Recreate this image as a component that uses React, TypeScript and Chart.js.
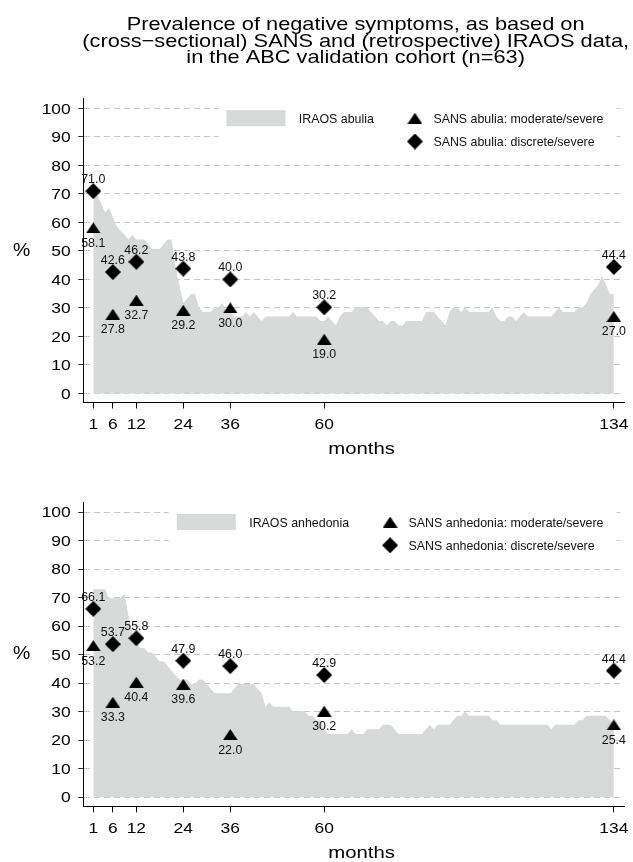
import React, { useEffect, useRef } from 'react';
import { Chart, registerables } from 'chart.js';

Chart.register(...registerables);

// ---------- data ----------
const titleLines = [
  'Prevalence of negative symptoms, as based on',
  '(cross\u2212sectional) SANS and (retrospective) IRAOS data,',
  'in the ABC validation cohort (n=63)',
];

const sansMonths = [1, 6, 12, 24, 36, 60, 134];
const xTicks = [1, 6, 12, 24, 36, 60, 134];
const yTicks = [0, 10, 20, 30, 40, 50, 60, 70, 80, 90, 100];

// IRAOS monthly prevalence (%), months 1..134
const abuliaIraos = [
  71.4, 69.8, 66.7, 63.5, 65.1, 61.9, 58.7, 57.1, 55.6, 54.0,
  55.6, 54.0, 54.0, 54.0, 52.4, 50.8, 50.8, 50.8, 52.4, 54.0,
  54.0, 44.4, 38.1, 31.7, 33.3, 34.9, 34.9, 30.2, 28.6, 28.6,
  28.6, 30.2, 30.2, 31.7, 28.6, 28.6, 27.0, 27.0, 27.0, 28.6,
  27.0, 28.6, 27.0, 25.4, 27.0, 27.0, 27.0, 27.0, 27.0, 27.0,
  27.0, 28.6, 27.0, 27.0, 27.0, 27.0, 27.0, 27.0, 25.4, 25.4,
  27.0, 25.4, 23.8, 27.0, 28.6, 28.6, 28.6, 30.2, 30.2, 30.2,
  30.2, 28.6, 27.0, 25.4, 25.4, 23.8, 25.4, 25.4, 23.8, 23.8,
  25.4, 25.4, 25.4, 25.4, 25.4, 28.6, 28.6, 28.6, 27.0, 25.4,
  23.8, 28.6, 30.2, 30.2, 28.6, 30.2, 28.6, 28.6, 28.6, 28.6,
  28.6, 28.6, 30.2, 27.0, 25.4, 25.4, 27.0, 27.0, 25.4, 27.0,
  28.6, 27.0, 27.0, 27.0, 27.0, 27.0, 27.0, 27.0, 28.6, 30.2,
  28.6, 28.6, 28.6, 28.6, 30.2, 30.2, 31.7, 34.9, 36.5, 38.1,
  41.3, 38.1, 34.9, 34.9,
];
const abuliaModerate = [58.1, 27.8, 32.7, 29.2, 30.0, 19.0, 27.0];
const abuliaDiscrete = [71.0, 42.6, 46.2, 43.8, 40.0, 30.2, 44.4];

const anhedoniaIraos = [
  73.0, 73.0, 73.0, 73.0, 69.8, 69.8, 69.8, 69.8, 71.4, 63.5,
  57.1, 54.0, 52.4, 52.4, 50.8, 50.8, 49.2, 47.6, 47.6, 46.0,
  44.4, 42.9, 41.3, 41.3, 41.3, 39.7, 39.7, 41.3, 41.3, 39.7,
  38.1, 36.5, 36.5, 36.5, 36.5, 36.5, 38.1, 39.7, 39.7, 39.7,
  39.7, 39.7, 38.1, 36.5, 31.7, 33.3, 31.7, 31.7, 31.7, 31.7,
  31.7, 30.2, 30.2, 30.2, 30.2, 28.6, 28.6, 27.0, 27.0, 23.8,
  22.2, 22.2, 22.2, 22.2, 22.2, 22.2, 23.8, 22.2, 22.2, 22.2,
  23.8, 23.8, 23.8, 23.8, 25.4, 25.4, 25.4, 23.8, 22.2, 22.2,
  22.2, 22.2, 22.2, 22.2, 22.2, 23.8, 25.4, 23.8, 25.4, 25.4,
  25.4, 25.4, 27.0, 28.6, 28.6, 30.2, 28.6, 28.6, 28.6, 28.6,
  28.6, 28.6, 27.0, 27.0, 25.4, 25.4, 25.4, 25.4, 25.4, 25.4,
  25.4, 25.4, 25.4, 25.4, 25.4, 25.4, 25.4, 23.8, 25.4, 25.4,
  25.4, 25.4, 25.4, 25.4, 27.0, 27.0, 28.6, 28.6, 28.6, 28.6,
  28.6, 28.6, 27.0, 25.4,
];
const anhedoniaModerate = [53.2, 33.3, 40.4, 39.6, 22.0, 30.2, 25.4];
const anhedoniaDiscrete = [66.1, 53.7, 55.8, 47.9, 46.0, 42.9, 44.4];

const abuliaLegend = ['IRAOS abulia', 'SANS abulia: moderate/severe', 'SANS abulia: discrete/severe'];
const anhedoniaLegend = ['IRAOS anhedonia', 'SANS anhedonia: moderate/severe', 'SANS anhedonia: discrete/severe'];

// ---------- styling ----------
const AREA = '#d8dada';
const FONT = '"Liberation Sans", Arial, Helvetica, sans-serif';
const W = 633;

function makeTriangle(): HTMLCanvasElement {
  const c = document.createElement('canvas');
  c.width = 15;
  c.height = 11;
  const g = c.getContext('2d')!;
  g.fillStyle = '#000';
  g.beginPath();
  g.moveTo(7.5, 0);
  g.lineTo(14.8, 11);
  g.lineTo(0.2, 11);
  g.closePath();
  g.fill();
  return c;
}

function makeDiamond(): HTMLCanvasElement {
  const c = document.createElement('canvas');
  c.width = 16;
  c.height = 16;
  const g = c.getContext('2d')!;
  g.fillStyle = '#000';
  g.beginPath();
  g.moveTo(8, 0);
  g.lineTo(16, 8);
  g.lineTo(8, 16);
  g.lineTo(0, 8);
  g.closePath();
  g.fill();
  return c;
}

function stretchText(
  ctx: CanvasRenderingContext2D,
  text: string,
  x: number,
  y: number,
  size: number,
  align: 'left' | 'center' | 'right',
  sx: number,
) {
  ctx.save();
  ctx.font = `${size}px ${FONT}`;
  ctx.textAlign = 'left';
  ctx.textBaseline = 'alphabetic';
  const w = ctx.measureText(text).width * sx;
  const x0 = align === 'center' ? x - w / 2 : align === 'right' ? x - w : x;
  ctx.translate(x0, y);
  ctx.scale(sx, 1);
  ctx.fillStyle = '#000';
  ctx.fillText(text, 0, 0);
  ctx.restore();
}

interface PanelProps {
  iraos: number[];
  moderate: number[];
  discrete: number[];
  legend: string[];
  title?: string[];
  height: number;
  padTop: number;
  xHeight: number;
}

function Panel({ iraos, moderate, discrete, legend, title, height, padTop, xHeight }: PanelProps) {
  const ref = useRef<HTMLCanvasElement>(null);

  useEffect(() => {
    const tri = makeTriangle();
    const dia = makeDiamond();

    const decor = {
      id: 'decor',
      afterDatasetsDraw(chart: any) {
        const ctx: CanvasRenderingContext2D = chart.ctx;
        const a = chart.chartArea;
        ctx.save();
        ctx.font = `12.4px ${FONT}`;
        const w1 = ctx.measureText(legend[0]).width;
        const w2 = Math.max(ctx.measureText(legend[1]).width, ctx.measureText(legend[2]).width);
        const textRight = a.right - 20.5;
        const t2x = textRight - w2;
        const mx = t2x - 18.5;
        const t1x = mx - 41 - w1;
        const swR = t1x - 13.4;
        const swL = swR - 59;
        const r1 = a.top + 19.7;
        const r2 = a.top + 43;
        ctx.fillStyle = '#fff';
        ctx.fillRect(swL - 8, a.top + 2, textRight + 13 - (swL - 8), 55);
        ctx.fillStyle = AREA;
        ctx.fillRect(swL, r1 - 8, 59, 16);
        ctx.drawImage(tri, mx - tri.width / 2, r1 - tri.height / 2);
        ctx.drawImage(dia, mx - dia.width / 2, r2 - dia.height / 2);
        ctx.fillStyle = '#111';
        ctx.textBaseline = 'alphabetic';
        ctx.textAlign = 'left';
        ctx.fillText(legend[0], t1x, r1 + 4.6);
        ctx.fillText(legend[1], t2x, r1 + 4.6);
        ctx.fillText(legend[2], t2x, r2 + 4.6);

        // value labels
        ctx.textAlign = 'center';
        ctx.fillStyle = '#111';
        [1, 2].forEach((di) => {
          const meta = chart.getDatasetMeta(di);
          const ds = chart.data.datasets[di];
          meta.data.forEach((pt: any, j: number) => {
            const v = (ds.data[j] as any).y as number;
            const yy = di === 1 ? pt.y + 19 : pt.y - 8;
            ctx.fillText(v.toFixed(1), pt.x, yy);
          });
        });
        ctx.restore();
      },
      afterDraw(chart: any) {
        const ctx: CanvasRenderingContext2D = chart.ctx;
        const a = chart.chartArea;
        const xs = chart.scales.x;
        const ys = chart.scales.y;
        // y tick labels
        ys.ticks.forEach((t: any) => {
          const y = ys.getPixelForValue(t.value);
          stretchText(ctx, String(t.value), a.left - 12.6, y + 5.2, 15, 'right', 1.16);
        });
        // x tick labels
        xs.ticks.forEach((t: any) => {
          const x = xs.getPixelForValue(t.value);
          stretchText(ctx, String(t.value), x, a.bottom + 26.5, 15, 'center', 1.16);
        });
        // axis titles
        const cx = (a.left + a.right) / 2;
        stretchText(ctx, 'months', cx + 8, a.bottom + 51.5, 17.4, 'center', 1.17);
        stretchText(ctx, '%', 21.7, (a.top + a.bottom) / 2 - 2 + 7, 18, 'center', 1.08);
        // main title
        if (title) {
          const base = [30, 46.7, 63.3];
          title.forEach((line, i) => {
            stretchText(ctx, line, cx + 2, base[i], 18.5, 'center', 1.178);
          });
        }
      },
    };

    const chart = new Chart(ref.current!, {
      type: 'line',
      data: {
        datasets: [
          {
            data: iraos.map((v, i) => ({ x: i + 1, y: v })),
            fill: 'origin',
            backgroundColor: AREA,
            borderColor: 'rgba(0,0,0,0)',
            borderWidth: 0,
            pointRadius: 0,
            tension: 0,
            order: 3,
          } as any,
          {
            data: sansMonths.map((m, i) => ({ x: m, y: moderate[i] })),
            showLine: false,
            pointStyle: tri,
            pointRadius: 8,
            backgroundColor: '#000',
            borderColor: '#000',
            order: 2,
          } as any,
          {
            data: sansMonths.map((m, i) => ({ x: m, y: discrete[i] })),
            showLine: false,
            pointStyle: dia,
            pointRadius: 8,
            backgroundColor: '#000',
            borderColor: '#000',
            order: 1,
          } as any,
        ],
      },
      options: {
        animation: false,
        responsive: false,
        events: [],
        layout: { padding: { top: padTop, right: W - 625.5, left: 0, bottom: 0 } },
        plugins: {
          legend: { display: false },
          tooltip: { enabled: false },
          title: { display: false },
        },
        scales: {
          x: {
            type: 'linear',
            min: -1.55,
            max: 136.6,
            afterBuildTicks: (s: any) => {
              s.ticks = xTicks.map((v) => ({ value: v }));
            },
            afterFit: (s: any) => {
              s.height = xHeight;
            },
            ticks: { display: false },
            grid: {
              drawOnChartArea: false,
              drawTicks: true,
              tickLength: 6,
              tickColor: '#000',
              color: '#000',
              lineWidth: 1,
            },
            border: { display: true, color: '#000', width: 1 },
          },
          y: {
            type: 'linear',
            min: -3.2,
            max: 103.5,
            afterBuildTicks: (s: any) => {
              s.ticks = yTicks.map((v) => ({ value: v }));
            },
            afterFit: (s: any) => {
              s.width = 83.3;
            },
            ticks: { display: false },
            grid: {
              color: '#c6c6c6',
              lineWidth: 1,
              drawTicks: true,
              tickLength: 5,
              tickColor: '#333',
              tickBorderDash: [],
            },
            border: { display: true, color: '#000', width: 1, dash: [6, 4] },
          },
        },
      } as any,
      plugins: [decor as any],
    });
    return () => chart.destroy();
  }, []);

  return (
    <canvas
      ref={ref}
      width={W}
      height={height}
      style={{ display: 'block', width: W, height }}
    />
  );
}

export default function App() {
  return (
    <div
      style={{
        position: 'absolute',
        left: 0,
        top: 0,
        width: W,
        height: 862,
        background: '#fff',
        overflow: 'hidden',
      }}
    >
      <Panel
        iraos={abuliaIraos}
        moderate={abuliaModerate}
        discrete={abuliaDiscrete}
        legend={abuliaLegend}
        title={titleLines}
        height={460}
        padTop={98.5}
        xHeight={57.5}
      />
      <Panel
        iraos={anhedoniaIraos}
        moderate={anhedoniaModerate}
        discrete={anhedoniaDiscrete}
        legend={anhedoniaLegend}
        height={402}
        padTop={42.3}
        xHeight={55.7}
      />
    </div>
  );
}
